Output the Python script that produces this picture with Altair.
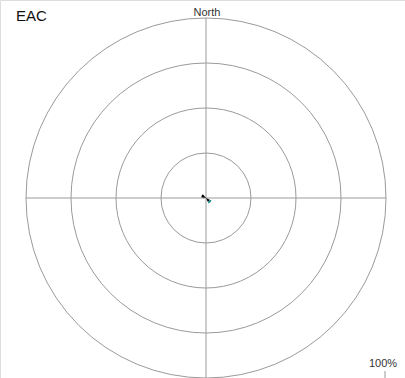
import altair as alt
import pandas as pd
import numpy as np

# grid rings (percent)
ring_pct = [25, 50, 75, 100]

# wind rose petals: direction (deg), inner %, outer %, bin
petal_dir = [300, 135, 135]
petal_r0 = [0.0, 0.0, 2.3]
petal_r1 = [2.7, 2.3, 3.4]
petal_bin = ["low", "low", "high"]

title_text = "EAC"
north_text = "North"
scale_text = "100%"

CX, CY, R = 206, 198, 180
W, H = 405, 378

rings = pd.DataFrame({"r": ring_pct})
half = np.deg2rad(40) / 2
petals = pd.DataFrame({
    "t0": [np.deg2rad(d) - half for d in petal_dir],
    "t1": [np.deg2rad(d) + half for d in petal_dir],
    "r0": petal_r0,
    "r1": petal_r1,
    "bin": petal_bin,
})

rscale = alt.Scale(type="linear", domain=[0, 100], range=[0, R], zero=True)

ring_layer = alt.Chart(rings).mark_arc(
    fill=None, filled=False, stroke="#9a9a9a", strokeWidth=1
).encode(
    theta=alt.value(0), theta2=alt.value(2 * np.pi),
    radius=alt.Radius("r:Q", scale=rscale, stack=None),
    radius2=alt.value(0),
    x=alt.value(CX), y=alt.value(CY),
)

cross = pd.DataFrame({"a": [-100], "b": [100], "z": [0]})
xs = alt.Scale(domain=[-100, 100], range=[CX - R, CX + R])
ys = alt.Scale(domain=[-100, 100], range=[CY + R, CY - R])
hline = alt.Chart(cross).mark_rule(color="#9a9a9a", strokeWidth=1).encode(
    x=alt.X("a:Q", scale=xs, axis=None), x2="b:Q",
    y=alt.Y("z:Q", scale=ys, axis=None),
)
vline = alt.Chart(cross).mark_rule(color="#9a9a9a", strokeWidth=1).encode(
    y=alt.Y("a:Q", scale=ys, axis=None), y2="b:Q",
    x=alt.X("z:Q", scale=xs, axis=None),
)

petal_layer = alt.Chart(petals).mark_arc(stroke=None).encode(
    theta=alt.Theta("t0:Q", scale=None, stack=None), theta2="t1:Q",
    radius=alt.Radius("r1:Q", scale=rscale, stack=None),
    radius2="r0:Q",
    color=alt.Color("bin:N", scale=alt.Scale(domain=["low", "high"], range=["#000000", "#1a8a8a"]), legend=None),
    x=alt.value(CX), y=alt.value(CY),
)

t_title = alt.Chart(pd.DataFrame({"t": [title_text]})).mark_text(
    align="left", baseline="alphabetic", fontSize=15, font="Liberation Sans", color="#111"
).encode(text="t:N", x=alt.value(16), y=alt.value(21))
t_north = alt.Chart(pd.DataFrame({"t": [north_text]})).mark_text(
    align="center", baseline="alphabetic", fontSize=11, font="Liberation Sans", color="#333"
).encode(text="t:N", x=alt.value(207), y=alt.value(16))
t_scale = alt.Chart(pd.DataFrame({"t": [scale_text]})).mark_text(
    align="center", baseline="alphabetic", fontSize=11, font="Liberation Sans", color="#333"
).encode(text="t:N", x=alt.value(383), y=alt.value(367))
tick = alt.Chart(pd.DataFrame({"t": [scale_text]})).mark_rule(color="#999").encode(
    x=alt.value(385), y=alt.value(371), y2=alt.value(378)
)

chart = alt.layer(
    ring_layer, hline, vline, petal_layer, t_title, t_north, t_scale, tick
).resolve_scale(radius="independent").properties(
    width=W, height=H, padding=0, autosize=alt.AutoSizeParams(type="none")
).configure_view(stroke=None).configure(background="white")

chart.save("out.html", embed_options={"renderer": "svg", "actions": False})
